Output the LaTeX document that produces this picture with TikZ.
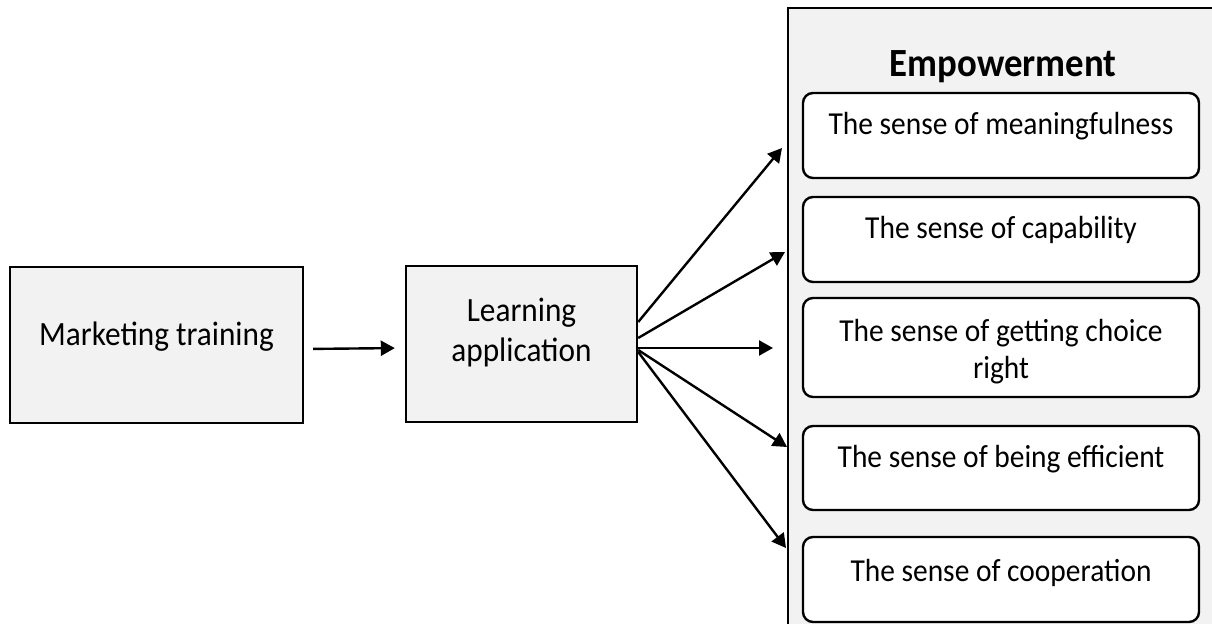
\documentclass[tikz,border=0pt]{standalone}
\usepackage{fontspec}
\setmainfont{Carlito}[FakeStretch=0.92]
\usetikzlibrary{arrows.meta}
\definecolor{boxgray}{HTML}{F2F2F2}
\tikzset{
    box/.style={draw, line width=1.2pt, fill=boxgray, inner sep=0pt, align=center, font=\fontsize{17}{20}\selectfont},
    sense/.style={draw, line width=1.2pt, fill=white, rounded corners=5pt, minimum width=198pt, inner sep=0pt, align=center, font=\fontsize{16}{18.5}\selectfont},
    arrow/.style={-{Triangle[length=7pt,width=7.5pt]}, line width=1.2pt}
}
\begin{document}
\begin{tikzpicture}[x=0.5pt, y=-0.5pt]
        \useasboundingbox (0,0) rectangle (1212,624);
        \clip (0,0) rectangle (1212,624);

        % empowerment panel, running off the page
        \fill [boxgray] (788,8) rectangle (1240,650);
        \draw [line width=1.3pt] (1240,8) -- (788,8) -- (788,650);
        \node (emp) [anchor=base, font=\fontsize{20}{22}\selectfont\bfseries] at (1003,77) {Empowerment};

        \node (train) [box, minimum width=146.5pt, minimum height=78pt, text height=39.5pt, text depth=38.5pt] at (156.5,345) {Marketing training};
        \node (learn) [box, minimum width=115.5pt, minimum height=78pt, text height=48pt, text depth=30pt] at (521.5,344) {Learning\\application};

        \node (s1) [sense, text height=21pt, text depth=21.5pt] at (1001,135.5) {The sense of meaningfulness};
        \node (s2) [sense, text height=21pt, text depth=21.5pt] at (1001,239.5) {The sense of capability};
        \node (s3) [sense, text height=40.5pt, text depth=9pt] at (1001,347.5) {The sense of getting choice\\right};
        \node (s4) [sense, text height=21pt, text depth=21pt] at (1001,468) {The sense of being efficient};
        \node (s5) [sense, text height=22.5pt, text depth=20pt] at (1001,579.5) {The sense of cooperation};

        \coordinate (t1) at (782,148);
        \coordinate (t2) at (785,252);
        \coordinate (t3) at (773,348);
        \coordinate (t4) at (787,447);
        \coordinate (t5) at (786,548);

        \path [arrow] ([yshift=-2pt]train.east) edge [shorten <=4.5pt, shorten >=5pt] ([yshift=-2pt]learn.west);
        \path [arrow] ([yshift=11pt]learn.east) edge (t1)
                      ([yshift=3pt]learn.east) edge (t2)
                      ([yshift=-2pt]learn.east) edge (t3)
                      ([yshift=-3pt]learn.east) edge (t4)
                      ([yshift=-4pt]learn.east) edge (t5);
    \end{tikzpicture}
\end{document}
